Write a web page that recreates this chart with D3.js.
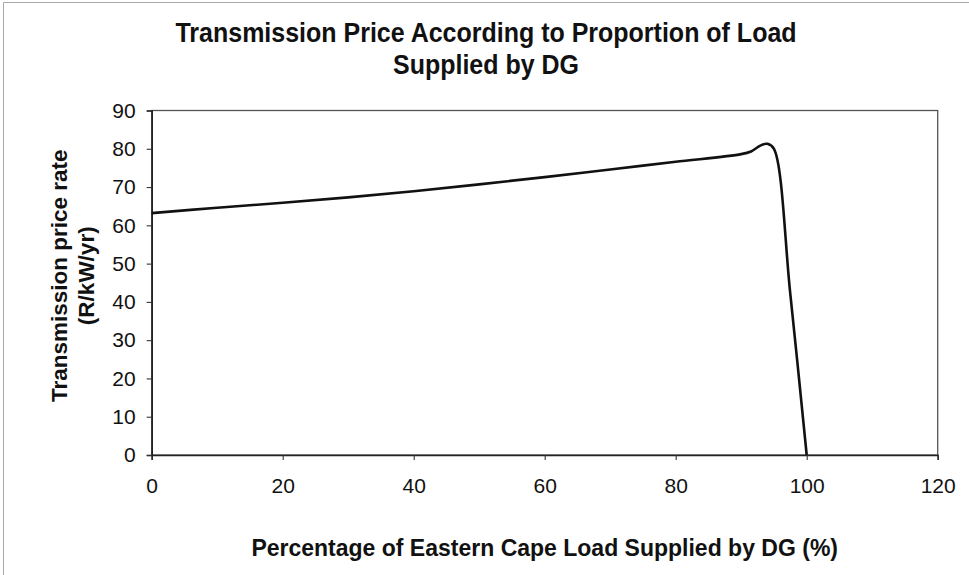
<!DOCTYPE html>
<html>
<head>
<meta charset="utf-8">
<script src="https://cdn.jsdelivr.net/npm/d3@7"></script>
<style>
  html, body { margin: 0; padding: 0; background: #fff; }
  svg { display: block; font-family: "Liberation Sans", Arial, sans-serif; }
</style>
</head>
<body>
<svg id="chart" width="969" height="575"></svg>
<script>
// Share of Eastern Cape load supplied by DG (%)
const dgShare = [0, 10, 20, 30, 40, 50, 60, 70, 80, 90, 91.5, 93, 94, 95, 97.5, 100];
// Transmission price rate (R/kW/yr)
const priceRate = [63.2, 64.6, 65.9, 67.3, 68.9, 70.7, 72.6, 74.6, 76.6, 78.6, 79.3, 80.9, 81.3, 80.0, 42.0, 0];

const xTicks = [0, 20, 40, 60, 80, 100, 120];
const yTicks = [0, 10, 20, 30, 40, 50, 60, 70, 80, 90];

const titleLines = ["Transmission Price According to Proportion of Load", "Supplied by DG"];
const xTitle = "Percentage of Eastern Cape Load Supplied by DG (%)";
const yTitleLines = ["Transmission price rate", "(R/kW/yr)"];

const svg = d3.select("#chart");
const W = 969, H = 575;
const plot = { left: 151.7, right: 937.7, top: 110.5, bottom: 455 };

const x = d3.scaleLinear().domain([0, 120]).range([plot.left, plot.right]);
const y = d3.scaleLinear().domain([0, 90]).range([plot.bottom, plot.top]);

// faint outer frame of the chart area
svg.append("path")
  .attr("d", `M3.5,${H} V2.5 H${W}`)
  .attr("fill", "none")
  .attr("stroke", "#aaa")
  .attr("stroke-width", 1);

// plot area frame
svg.append("rect")
  .attr("x", plot.left).attr("y", plot.top)
  .attr("width", plot.right - plot.left)
  .attr("height", plot.bottom - plot.top)
  .attr("fill", "none")
  .attr("stroke", "#555")
  .attr("stroke-width", 1.3);

// axes
const xAxis = d3.axisBottom(x).tickValues(xTicks).tickSize(5).tickPadding(18).tickFormat(d3.format("d"));
const yAxis = d3.axisLeft(y).tickValues(yTicks).tickSize(5).tickPadding(11).tickFormat(d3.format("d"));

const gx = svg.append("g").attr("transform", `translate(0,${plot.bottom})`).call(xAxis);
const gy = svg.append("g").attr("transform", `translate(${plot.left},0)`).call(yAxis);

[gx, gy].forEach(g => {
  g.select(".domain").attr("stroke", "#222").attr("stroke-width", 1.6);
  g.selectAll(".tick line").attr("stroke", "#333").attr("stroke-width", 1.1);
  g.selectAll(".tick text")
    .attr("fill", "#111")
    .style("font-family", "'Liberation Sans', Arial, sans-serif")
    .style("font-size", "21px");
});

// price curve
const line = d3.line()
  .x((d, i) => x(dgShare[i]))
  .y(d => y(d))
  .curve(d3.curveCatmullRom.alpha(0.5));

svg.append("path")
  .datum(priceRate)
  .attr("d", line)
  .attr("fill", "none")
  .attr("stroke", "#111")
  .attr("stroke-width", 2.6)
  .attr("stroke-linejoin", "round");

// chart title (bold, slightly tall lettering)
svg.append("text")
  .attr("transform", "translate(486,0) scale(1,1.12)")
  .attr("text-anchor", "middle")
  .attr("font-weight", "bold")
  .attr("font-size", 25)
  .attr("fill", "#111")
  .selectAll("tspan")
  .data(titleLines)
  .join("tspan")
  .attr("x", 0)
  .attr("y", (d, i) => (42 + i * 32) / 1.12)
  .text(d => d);

// x-axis title
svg.append("text")
  .attr("x", (plot.left + plot.right) / 2)
  .attr("y", 556)
  .attr("text-anchor", "middle")
  .attr("font-weight", "bold")
  .attr("font-size", 23)
  .attr("fill", "#111")
  .text(xTitle);

// y-axis title (two lines, rotated)
const yCenter = (plot.top + plot.bottom) / 2 - 7;
svg.append("text")
  .attr("transform", `translate(0,${yCenter}) rotate(-90)`)
  .attr("text-anchor", "middle")
  .attr("font-weight", "bold")
  .attr("font-size", 22.5)
  .attr("fill", "#111")
  .selectAll("tspan")
  .data(yTitleLines)
  .join("tspan")
  .attr("x", 0)
  .attr("y", (d, i) => 67 + i * 27)
  .text(d => d);
</script>
</body>
</html>
